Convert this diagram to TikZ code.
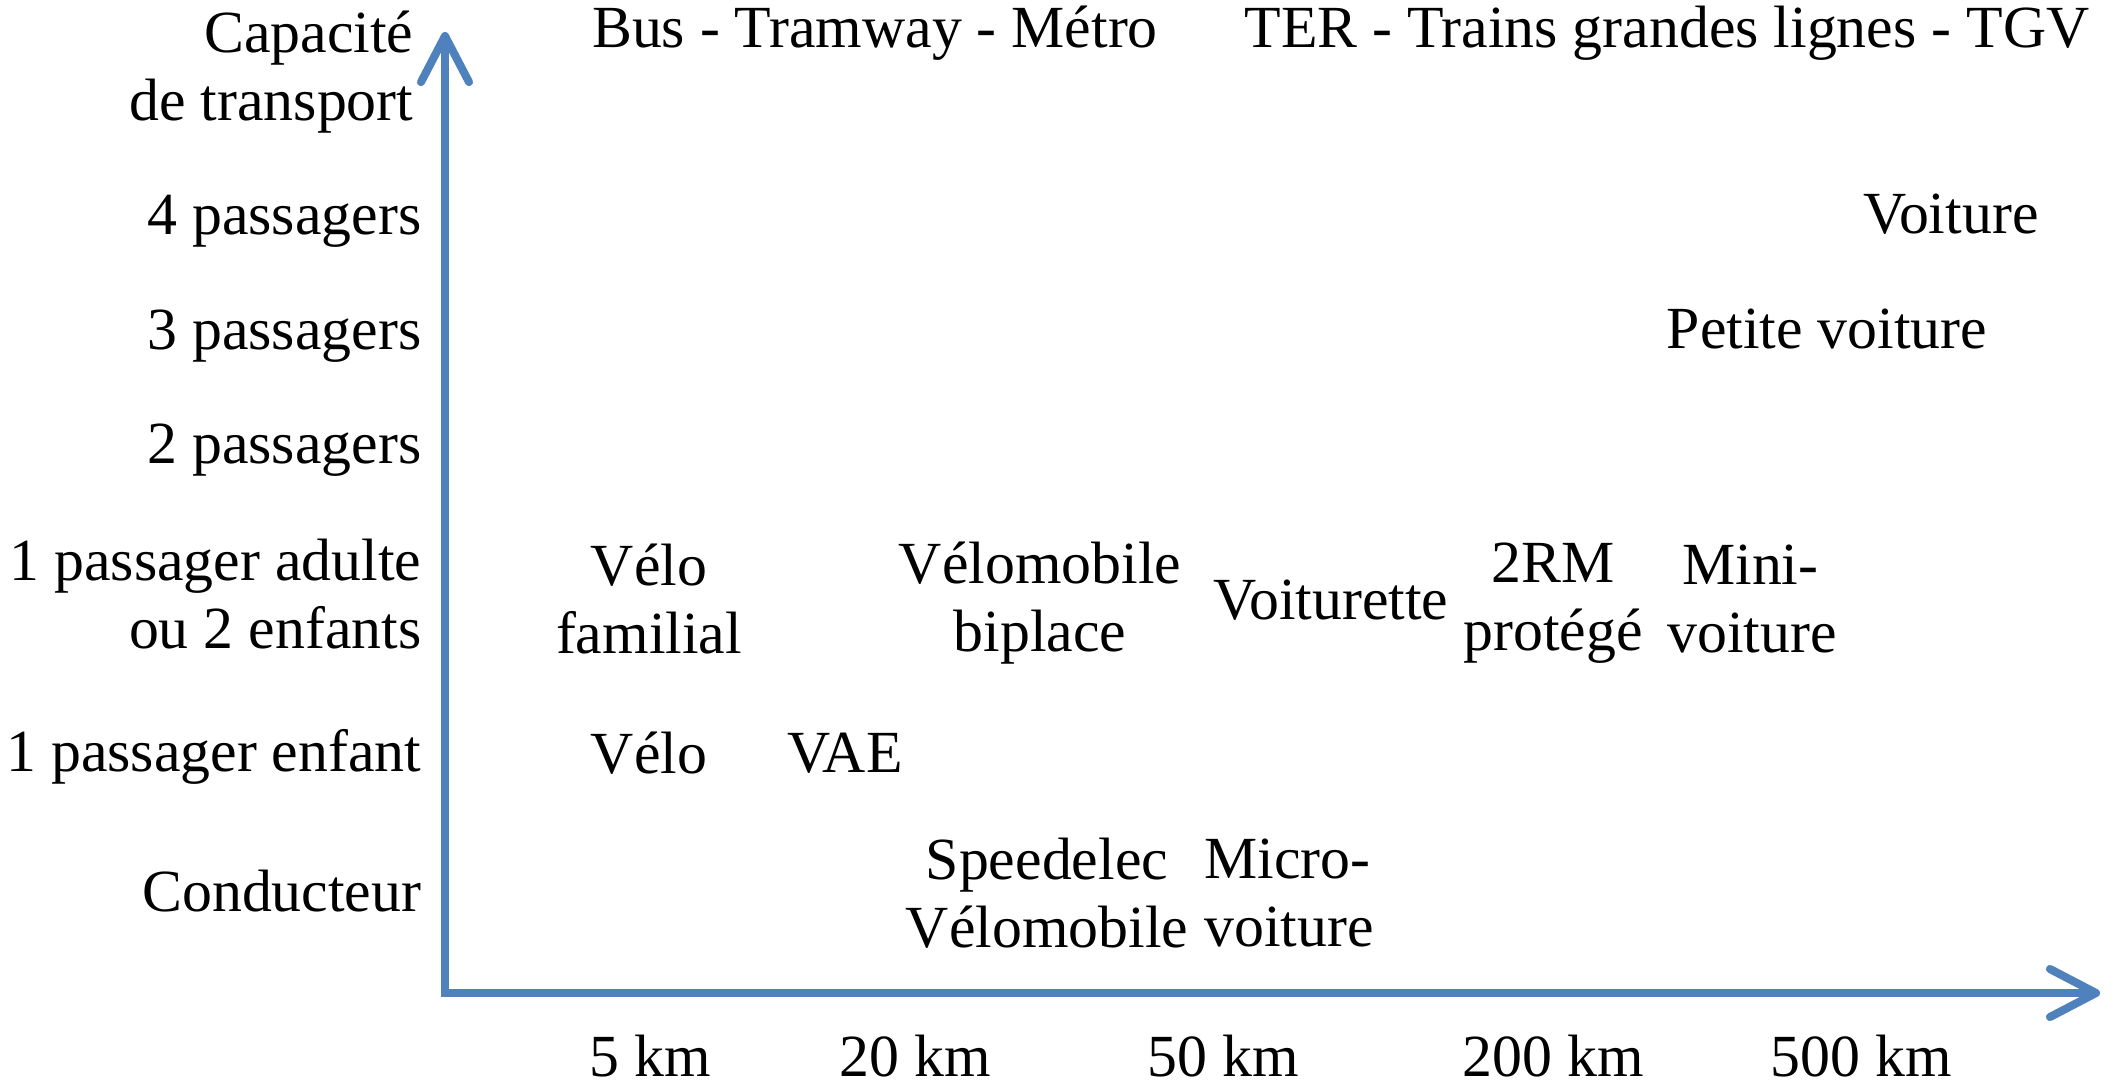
\documentclass[tikz,border=0pt]{standalone}
\usepackage{fontspec}
\setmainfont{Liberation Serif}
\usetikzlibrary{arrows.meta}
\definecolor{axisblue}{HTML}{4F81BD}

\begin{document}
\begin{tikzpicture}[x=0.01cm,y=-0.01cm,
        lbl/.style={font=\fontsize{17}{19.3}\selectfont, inner sep=0pt},
        ylbl/.style={lbl, anchor=east, align=right},
        axisline/.style={draw=axisblue, line width=2.3pt, line join=miter,
            {Straight Barb[length=4.6mm,width=4.8mm,line cap=round,line join=round]}-{Straight Barb[length=4.6mm,width=4.8mm,line cap=round,line join=round]}}]
        \useasboundingbox (0,0) rectangle (2116,1081);

        % axes
        \coordinate (origin) at (445,993);
        \coordinate (ytop) at (445,32);
        \coordinate (xend) at (2100,993);
        \draw[axisline] (ytop) -- (origin) -- (xend);

        % capacite
        \node (cap) [ylbl] at (414,72) {Capacité\\de transport};
        \node (p4) [ylbl] at (422,221) {4 passagers};
        \node (p3) [ylbl] at (422,336) {3 passagers};
        \node (p2) [ylbl] at (422,450) {2 passagers};
        \node (p1a) [ylbl] at (422,594) {1 passager adulte\\ou 2 enfants};
        \node (p1e) [ylbl] at (422,757) {1 passager enfant};
        \node (cond) [ylbl] at (422,891) {Conducteur};

        % distances
        \node (d5) [lbl] at (650,1056) {5 km};
        \node (d20) [lbl] at (915,1056) {20 km};
        \node (d50) [lbl] at (1223,1056) {50 km};
        \node (d200) [lbl] at (1553,1056) {200 km};
        \node (d500) [lbl] at (1861,1056) {500 km};

        % vehicules
        \node (bus) [lbl] at (875,33) {Bus - Tramway - Métro};
        \node (ter) [lbl] at (1667,33) {TER - Trains grandes lignes - TGV};
        \node (voiture) [lbl] at (1951,214) {Voiture};
        \node (petite) [lbl] at (1827,329) {Petite voiture};
        \node (velofam) [lbl, align=center] at (649,599) {Vélo\\familial};
        \node (velobi) [lbl, align=center] at (1040,603) {Vélomobile\\biplace};
        \node (voiturette) [lbl] at (1331,600) {Voiturette};
        \node (rm) [lbl, align=center] at (1553,603) {2RM\\protégé};
        \node (mini) [lbl, align=left] at (1752,599) {~Mini-\\voiture};
        \node (velo) [lbl] at (649,753) {Vélo};
        \node (vae) [lbl] at (845,753) {VAE};
        \node (speed) [lbl, align=center] at (1047,893) {Speedelec\\Vélomobile};
        \node (micro) [lbl, align=left] at (1289,893) {Micro-\\voiture};
    \end{tikzpicture}
\end{document}
